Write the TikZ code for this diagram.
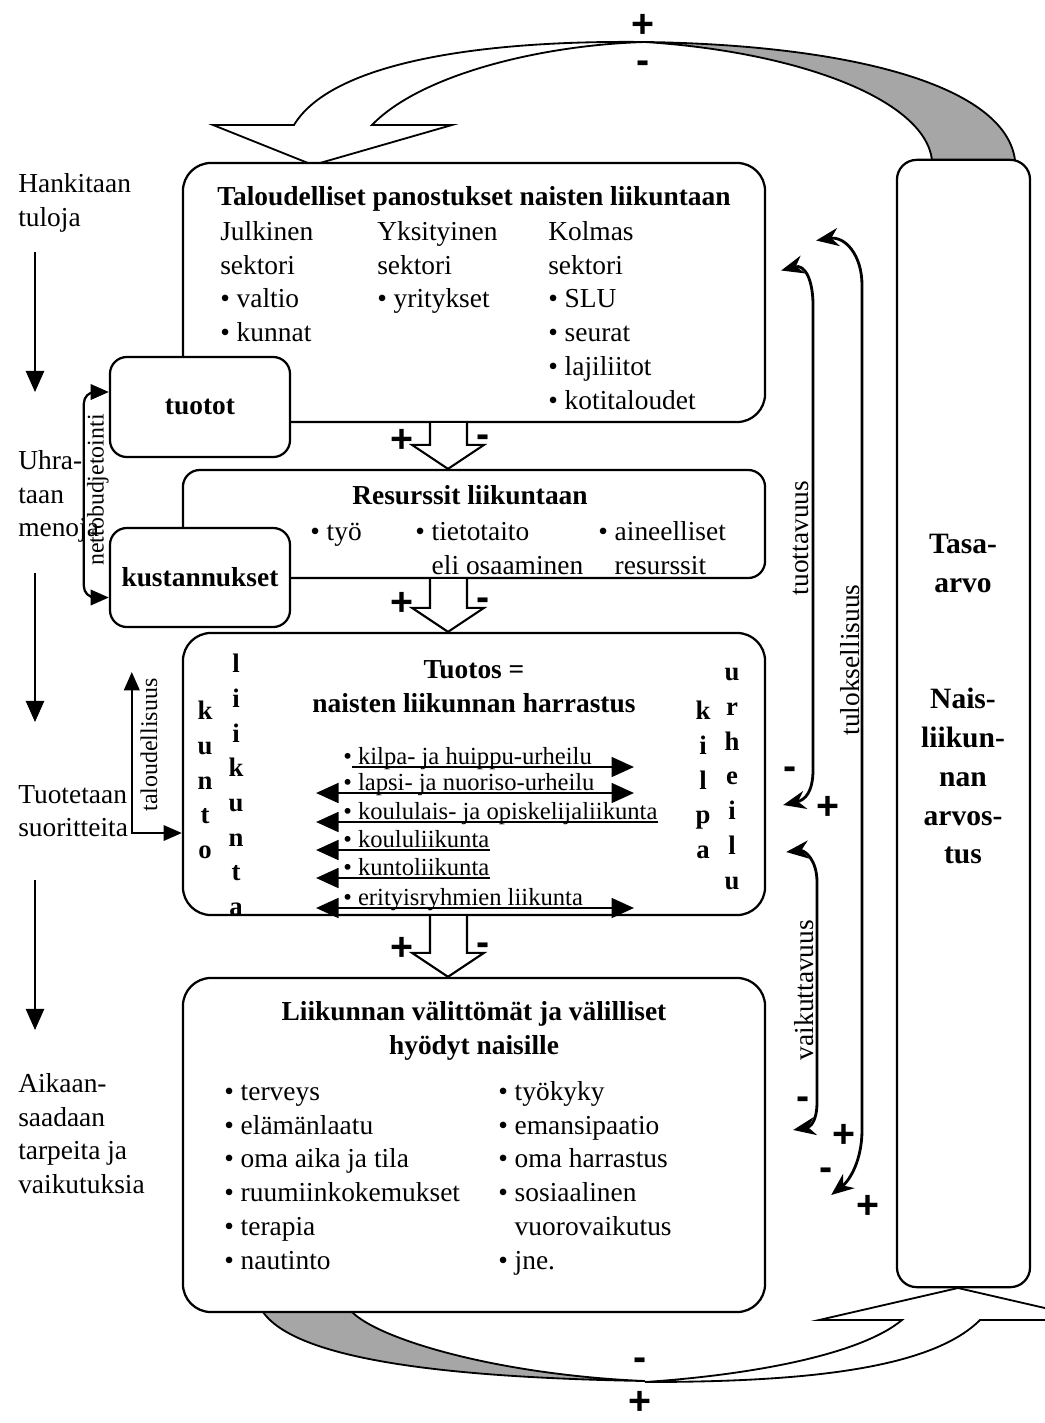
\documentclass[tikz,border=0pt]{standalone}
\usepackage{fontspec}
\setmainfont{Liberation Serif}
\newfontfamily\signfamily{Liberation Sans}
\usetikzlibrary{positioning,arrows.meta,calc}

\begin{document}
\begin{tikzpicture}[
    x=0.025cm, y=-0.025cm,
    font=\fontsize{19.5}{24}\selectfont,
    bigbox/.style={rectangle,rounded corners=20pt,draw,line width=1.6pt,fill=white,minimum width=14.55cm},
    smallbox/.style={rectangle,rounded corners=12pt,draw,line width=1.6pt,fill=white,minimum width=4.5cm,minimum height=2.5cm,font=\fontsize{19.5}{24}\selectfont\bfseries},
    txt/.style={align=left,anchor=north west,inner sep=0pt},
    title/.style={align=center,inner sep=0pt,font=\fontsize{19.5}{24}\selectfont\bfseries},
    bigtitle/.style={align=center,inner sep=0pt,font=\fontsize{21}{27.7}\selectfont\bfseries},
    vword/.style={align=center,inner sep=0pt,font=\fontsize{19}{24.7}\selectfont\bfseries},
    item/.style={anchor=base west,inner sep=0pt,font=\fontsize{17.5}{20}\selectfont},
    sign/.style={inner sep=0pt,font=\fontsize{28}{28}\selectfont\signfamily\bfseries},
    rlabel/.style={rotate=90,inner sep=0pt,font=\fontsize{17}{20}\selectfont},
    mlabel/.style={rotate=90,inner sep=0pt,font=\fontsize{19.5}{20}\selectfont},
    ribbon/.style={draw,line width=1.3pt,fill=white},
    shade/.style={draw,line width=1.3pt,fill=black!35},
    hollow/.style={draw,line width=1.5pt,fill=white},
    timearrow/.style={-{Triangle[length=15pt,width=13pt]},line width=1.3pt},
    linkarrow/.style={{Stealth[length=16pt,width=13pt]}-{Stealth[length=16pt,width=13pt]},line width=2pt},
    tarrow/.style={{Triangle[length=13pt,width=11pt]}-{Triangle[length=13pt,width=11pt]},line width=1.6pt},
    rarrow/.style={line width=2pt,-{Triangle[length=16pt,width=14pt]}},
    larrow/.style={line width=2pt,{Triangle[length=16pt,width=14pt]}-},
    darrow/.style={line width=2pt,{Triangle[length=16pt,width=14pt]}-{Triangle[length=16pt,width=14pt]}},
  ]
  \useasboundingbox (0,0) rectangle (1045,1423);
  \clip (0,0) rectangle (1045,1423);

  % twisted ribbon on top
  \path[shade] (645,42) .. controls (850,45) and (1005,85) .. (1015,160)
    -- (932,160) .. controls (925,100) and (800,52) .. (645,42) -- cycle;
  \path[ribbon] (294,125) .. controls (330,65) and (470,40) .. (645,42)
    .. controls (540,45) and (420,75) .. (372,125)
    -- (452,125) -- (313,165) -- (213,125) -- cycle;

  % twisted ribbon at the bottom
  \path[shade] (263,1312) .. controls (300,1365) and (480,1378) .. (645,1381)
    .. controls (500,1375) and (380,1340) .. (352,1312) -- cycle;
  \path[ribbon] (645,1382) .. controls (800,1382) and (930,1370) .. (980,1320)
    -- (1097,1320) -- (958,1288) -- (819,1320) -- (902,1320)
    .. controls (860,1355) and (750,1375) .. (645,1382) -- cycle;

  % boxes
  \node[bigbox,minimum height=6.475cm] (talous) at (474,292.5) {};
  \node[bigbox,rounded corners=12pt,minimum height=2.7cm] (resurssit) at (474,524) {};
  \node[bigbox,minimum height=7.05cm] (tuotos) at (474,774) {};
  \node[bigbox,minimum height=8.35cm] (hyodyt) at (474,1145) {};
  \node[bigbox,rounded corners=14pt,minimum width=3.325cm,minimum height=28.175cm] (tasa) at (963.5,723.5) {};
  \node[smallbox] (tuotot) at (200,407) {tuotot};
  \node[smallbox,minimum height=2.475cm] (kustannukset) at (200,577.5) {kustannukset};

  % hollow arrows between the boxes
  \foreach \a/\b/\n in {talous/resurssit/1,resurssit/tuotos/2,tuotos/hyodyt/3} {
    \path[hollow] ([shift={(-44,0)}]\a.south) -- ([shift={(-44,-24)}]\b.north)
      -- ([shift={(-62,-24)}]\b.north) -- ([shift={(-26,0)}]\b.north)
      -- ([shift={(10,-24)}]\b.north) -- ([shift={(-7,-24)}]\b.north)
      -- ([shift={(-7,0)}]\a.south);
    \node[sign] (plus\n) at ([shift={(-72,-28)}]\b.north) {+};
    \node[sign] (minus\n) at ([shift={(9,-28)}]\b.north) {-};
  }

  % texts of the boxes
  \node[title] (talousotsikko) at (474,199) {Taloudelliset panostukset naisten liikuntaan};
  \node[txt] (julkinen) at (220,221) {Julkinen\\sektori\\\textbullet{} valtio\\\textbullet{} kunnat};
  \node[txt] (yksityinen) at (377,221) {Yksityinen\\sektori\\\textbullet{} yritykset};
  \node[txt] (kolmas) at (548,221) {Kolmas\\sektori\\\textbullet{} SLU\\\textbullet{} seurat\\\textbullet{} lajiliitot\\\textbullet{} kotitaloudet};

  \node[title] (resotsikko) at (470,495) {Resurssit liikuntaan};
  \node[txt] (tyo) at (310,521) {\vphantom{l}\textbullet{} työ};
  \node[txt] (tietotaito) at (415,521) {\vphantom{l}\textbullet{} tietotaito\\\phantom{\textbullet{} }eli osaaminen};
  \node[txt] (aineelliset) at (598,521) {\textbullet{} aineelliset\\\phantom{\textbullet{} }resurssit};

  \node[title] (tuotosotsikko) at (474,687) {Tuotos =\\naisten liikunnan harrastus};
  \node[vword] (kunto) at (205,780) {k\\u\\n\\t\\o};
  \node[vword] (liikunta) at (236,785) {l\\i\\i\\k\\u\\n\\t\\a};
  \node[vword] (kilpa) at (703,780) {k\\i\\l\\p\\a};
  \node[vword] (urheilu) at (732,779) {u\\r\\h\\e\\i\\l\\u};

  \foreach \i/\yb/\txt in {1/764/kilpa- ja huippu-urheilu,2/790/lapsi- ja nuoriso-urheilu,
      3/819/koululais- ja opiskelijaliikunta,4/847/koululiikunta,5/875/kuntoliikunta,
      6/905/erityisryhmien liikunta}
    \node[item] (laji\i) at (343,\yb) {\textbullet{} \txt};
  \draw[rarrow] ([shift={(9,3)}]laji1.base west) -- ([shift={(291,3)}]laji1.base west);
  \draw[darrow] ([shift={(-27,3)}]laji2.base west) -- ([shift={(291,3)}]laji2.base west);
  \draw[larrow] ([shift={(-27,3)}]laji3.base west) -- ([shift={(0,3)}]laji3.base east);
  \draw[larrow] ([shift={(-27,3)}]laji4.base west) -- ([shift={(0,3)}]laji4.base east);
  \draw[larrow] ([shift={(-27,3)}]laji5.base west) -- ([shift={(0,3)}]laji5.base east);
  \draw[darrow] ([shift={(-27,3)}]laji6.base west) -- ([shift={(291,3)}]laji6.base west);

  \node[title] (hyototsikko) at (474,1031) {Liikunnan välittömät ja välilliset\\hyödyt naisille};
  \node[txt] (hyotyA) at (224,1081) {\vphantom{l}\textbullet{} terveys\\\textbullet{} elämänlaatu\\\textbullet{} oma aika ja tila\\\textbullet{} ruumiinkokemukset\\\textbullet{} terapia\\\textbullet{} nautinto};
  \node[txt] (hyotyB) at (498,1081) {\textbullet{} työkyky\\\textbullet{} emansipaatio\\\textbullet{} oma harrastus\\\textbullet{} sosiaalinen\\\phantom{\textbullet{} }vuorovaikutus\\\textbullet{} jne.};

  \node[bigtitle] (tasaarvo) at (963,563) {Tasa-\\arvo};
  \node[bigtitle] (arvostus) at (963,776) {Nais-\\liikun-\\nan\\arvos-\\tus};

  % phases on the left
  \node[txt] (hankitaan) at (18,173) {Hankitaan\\tuloja};
  \node[txt] (uhrataan) at (18,450) {Uhra-\\taan\\menoja};
  \node[txt] (tuotetaan) at (18,785) {Tuotetaan\\suoritteita};
  \node[txt] (aikaan) at (18,1073) {Aikaan-\\saadaan\\tarpeita ja\\vaikutuksia};
  \draw[timearrow] ([shift={(17,20)}]hankitaan.south west) -- ([shift={(17,-58)}]uhrataan.north west);
  \draw[timearrow] ([shift={(17,30)}]uhrataan.south west) -- ([shift={(17,-63)}]tuotetaan.north west);
  \draw[timearrow] ([shift={(17,42)}]tuotetaan.south west) -- ([shift={(17,-43)}]aikaan.north west);

  \draw[tarrow,rounded corners=8pt] ([shift={(0,-15)}]tuotot.west) -- ++(-25,0)
    |- ([shift={(0,20)}]kustannukset.west);
  \node[rlabel] (netto) at (98,490) {nettobudjetointi};

  \draw[tarrow] ([shift={(-50,-102)}]tuotos.west) |- ([shift={(0,59)}]tuotos.west);
  \node[rlabel] (talousluku) at (149,745) {taloudellisuus};

  % measures on the right
  \draw[linkarrow] ([shift={(15,-22)}]talous.east) .. controls (805,264) and (813,280) .. (813,305)
    -- (813,770) .. controls (813,792) and (805,800) .. ([shift={(17,31)}]tuotos.east);
  \node[mlabel] (tuottavuus) at (801,538) {tuottavuus};

  \draw[linkarrow] ([shift={(50,-52)}]talous.east) .. controls (845,236) and (862,255) .. (862,285)
    -- (862,1130) .. controls (862,1160) and (850,1180) .. ([shift={(65,50)}]hyodyt.east);
  \node[mlabel] (tuloksellisuus) at (850,660) {tuloksellisuus};

  \draw[linkarrow] ([shift={(20,78)}]tuotos.east) .. controls (805,850) and (817,860) .. (817,882)
    -- (817,1102) .. controls (817,1122) and (810,1127) .. ([shift={(27,-15)}]hyodyt.east);
  \node[mlabel] (vaikuttavuus) at (804,990) {vaikuttavuus};

  % signs
  \node[sign] (plustop) at (643,26) {+};
  \node[sign] (minustop) at (643,67) {-};
  \node[sign] (minusbottom) at (640,1364) {-};
  \node[sign] (plusbottom) at (640,1403) {+};
  \node[sign] (minusA) at (790,773) {-};
  \node[sign] (plusA) at (828,808) {+};
  \node[sign] (minusB) at (803,1103) {-};
  \node[sign] (plusB) at (844,1136) {+};
  \node[sign] (minusC) at (826,1174) {-};
  \node[sign] (plusC) at (868,1207) {+};
\end{tikzpicture}
\end{document}
